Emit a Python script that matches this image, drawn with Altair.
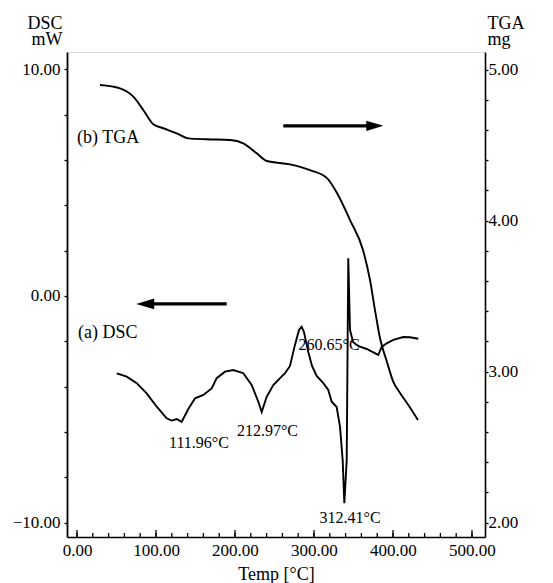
import altair as alt
import pandas as pd

FONT = "Liberation Serif"

# ---- data ----
# TGA curve: temperature [°C], mass [mg]
tga_temp = [29.1, 54.4, 71.3, 83.9, 96.6, 109.2, 126.2, 140.9, 164.2, 193.7, 210.5,
            227.5, 240.1, 269.6, 294.9, 316.5, 329.1, 345.6, 362.0, 370.9, 377.2,
            383.5, 392.4, 400.0, 408.9, 417.7, 431.6]
tga_mass = [4.897, 4.875, 4.820, 4.732, 4.637, 4.611, 4.577, 4.544, 4.538, 4.533, 4.511,
            4.445, 4.394, 4.372, 4.334, 4.281, 4.182, 4.003, 3.805, 3.606, 3.407,
            3.222, 3.063, 2.937, 2.858, 2.791, 2.679]

# DSC curve: temperature [°C], heat flow [mW]
dsc_temp = [50.3, 62.9, 75.6, 88.2, 100.9, 113.5, 119.9, 126.2, 132.5, 140.9, 149.4,
            159.9, 170.5, 176.8, 187.3, 197.8, 210.5, 221.1, 229.5, 233.8, 240.1,
            248.5, 257.0, 263.3, 269.6, 275.9, 281.0, 284.4, 287.3, 292.8, 297.5,
            303.4, 311.8, 318.1, 322.4, 328.7, 332.9, 336.3, 338.4, 341.4, 343.4,
            345.6, 349.4, 354.1, 358.2, 366.7, 375.1, 381.4, 385.7, 392.0, 400.4,
            413.0, 421.5, 432.0]
dsc_flow = [-3.42, -3.56, -3.85, -4.30, -4.89, -5.40, -5.50, -5.43, -5.56, -4.99, -4.52,
            -4.37, -4.08, -3.63, -3.34, -3.27, -3.41, -3.93, -4.67, -5.12, -4.45,
            -3.93, -3.63, -3.41, -3.09, -2.16, -1.50, -1.36, -1.59, -2.47, -3.09,
            -3.53, -3.85, -4.15, -4.67, -4.90, -5.77, -7.24, -9.15, -7.24, 1.66,
            -1.50, -2.03, -2.16, -2.24, -2.34, -2.49, -2.60, -2.25, -2.09, -1.94,
            -1.81, -1.82, -1.89]

# annotations (placed in DSC coordinates)
ann_text = ["(b) TGA", "(a) DSC"]
ann_temp = [0.0, 1.3]
ann_flow = [6.98, -1.65]

peak_text = ["111.96°C", "212.97°C", "260.65°C", "312.41°C"]
peak_temp = [154.4, 241.1, 319.0, 345.6]
peak_flow = [-6.48, -5.95, -2.16, -9.81]

# arrows: shaft start/end and head centre, in DSC coordinates
arrow_r_temp = [261.1, 372.0]
arrow_r_flow = [7.51, 7.51]
arrow_r_head = (377.0, 7.51)
arrow_l_temp = [189.5, 90.0]
arrow_l_flow = [-0.35, -0.35]
arrow_l_head = (86.3, -0.35)

x_ticks_minor = list(range(0, 501, 20))
x_ticks_major = list(range(0, 501, 100))
dsc_ticks = list(range(-10, 11, 2))
tga_ticks = [round(2.0 + 0.2 * i, 1) for i in range(16)]

# ---- scales / axes ----
W, H = 418, 485
x_scale = alt.Scale(domain=[-12.66, 516.46], nice=False, zero=False)
dsc_scale = alt.Scale(domain=[-10.64, 10.77], nice=False, zero=False)
tga_scale = alt.Scale(domain=[1.904, 5.116], nice=False, zero=False)

x_axis = alt.Axis(values=x_ticks_major, format=".2f", ticks=False, grid=False,
                  labelPadding=5, labelFontSize=17, labelFont=FONT, labelColor="black",
                  domainColor="black", domainWidth=1.6,
                  title="Temp [°C]", titleFont=FONT, titleFontSize=18,
                  titleFontWeight="normal", titleColor="black",
                  titleX=W / 2, titleY=42, titleBaseline="alphabetic", titleAlign="center")

dsc_axis = alt.Axis(orient="left", values=dsc_ticks, grid=False,
                    labelExpr="datum.value % 10 == 0 ? format(datum.value, '.2f') : ''",
                    tickSize=3, tickColor="black", tickWidth=1.3, labelPadding=4,
                    labelFontSize=17, labelFont=FONT, labelColor="black",
                    domainColor="black", domainWidth=1.8,
                    title=["DSC", "mW"], titleFont=FONT, titleFontSize=18,
                    titleFontWeight="normal", titleColor="black", titleAngle=0,
                    titleAlign="right", titleBaseline="alphabetic",
                    titleX=-5, titleY=-24, titleLineHeight=16)

tga_axis = alt.Axis(orient="right", values=tga_ticks, grid=False,
                    labelExpr="abs(datum.value - round(datum.value)) < 0.001 ? format(datum.value, '.2f') : ''",
                    tickSize=3, tickColor="black", tickWidth=1.3, labelPadding=0,
                    labelFontSize=17, labelFont=FONT, labelColor="black",
                    domainColor="black", domainWidth=1.6,
                    title=["TGA", "mg"], titleFont=FONT, titleFontSize=18,
                    titleFontWeight="normal", titleColor="black", titleAngle=0,
                    titleAlign="left", titleBaseline="alphabetic",
                    titleX=2, titleY=-24, titleLineHeight=16)

X = alt.X("T:Q", scale=x_scale, axis=x_axis)
Y_DSC = alt.Y("mW:Q", scale=dsc_scale, axis=dsc_axis)

# ---- layers ----
dsc_df = pd.DataFrame({"T": dsc_temp, "mW": dsc_flow})
dsc_line = alt.Chart(dsc_df).mark_line(color="black", strokeWidth=1.9).encode(x=X, y=Y_DSC)

ann_df = pd.DataFrame({"T": ann_temp, "mW": ann_flow, "label": ann_text})
ann = alt.Chart(ann_df).mark_text(font=FONT, fontSize=18, align="left", baseline="middle",
                                  color="black").encode(x=X, y=Y_DSC, text="label:N")

peak_df = pd.DataFrame({"T": peak_temp, "mW": peak_flow, "label": peak_text})
peaks = alt.Chart(peak_df).mark_text(font=FONT, fontSize=16, align="center", baseline="middle",
                                     color="black").encode(x=X, y=Y_DSC, text="label:N")

ar_df = pd.DataFrame({"T": arrow_r_temp, "mW": arrow_r_flow})
al_df = pd.DataFrame({"T": arrow_l_temp, "mW": arrow_l_flow})
shaft_r = alt.Chart(ar_df).mark_line(color="black", strokeWidth=3.4).encode(x=X, y=Y_DSC)
shaft_l = alt.Chart(al_df).mark_line(color="black", strokeWidth=3.4).encode(x=X, y=Y_DSC)

head_r_df = pd.DataFrame({"T": [arrow_r_head[0]], "mW": [arrow_r_head[1]]})
head_l_df = pd.DataFrame({"T": [arrow_l_head[0]], "mW": [arrow_l_head[1]]})
head_r = alt.Chart(head_r_df).mark_point(shape="M1,0L-1,-0.6L-1,0.6Z", size=289, filled=True,
                                         color="black", opacity=1).encode(x=X, y=Y_DSC)
head_l = alt.Chart(head_l_df).mark_point(shape="M-1,0L1,-0.6L1,0.6Z", size=324, filled=True,
                                         color="black", opacity=1).encode(x=X, y=Y_DSC)

minor_df = pd.DataFrame({"T": x_ticks_minor})
major_df = pd.DataFrame({"T": x_ticks_major})
minor_rules = alt.Chart(minor_df).mark_rule(color="black", strokeWidth=1.3).encode(
    x=X, y=alt.value(H), y2=alt.value(H - 4))
major_rules = alt.Chart(major_df).mark_rule(color="black", strokeWidth=1.3).encode(
    x=X, y=alt.value(H), y2=alt.value(H - 7))

dsc_group = alt.layer(dsc_line, ann, peaks, shaft_r, shaft_l, head_r, head_l,
                      minor_rules, major_rules)

tga_df = pd.DataFrame({"T": tga_temp, "mg": tga_mass})
tga_line = alt.Chart(tga_df).mark_line(color="black", strokeWidth=1.9, interpolate="monotone").encode(
    x=X, y=alt.Y("mg:Q", scale=tga_scale, axis=tga_axis))

chart = alt.layer(dsc_group, tga_line).resolve_scale(y="independent").properties(
    width=W, height=H,
    autosize=alt.AutoSizeParams(type="none"),
    padding={"left": 59, "top": 44, "right": 60, "bottom": 49},
).configure_view(stroke="black", strokeWidth=1.6).configure(background="white")

chart.save("out.html", embed_options={"renderer": "svg", "actions": False})
